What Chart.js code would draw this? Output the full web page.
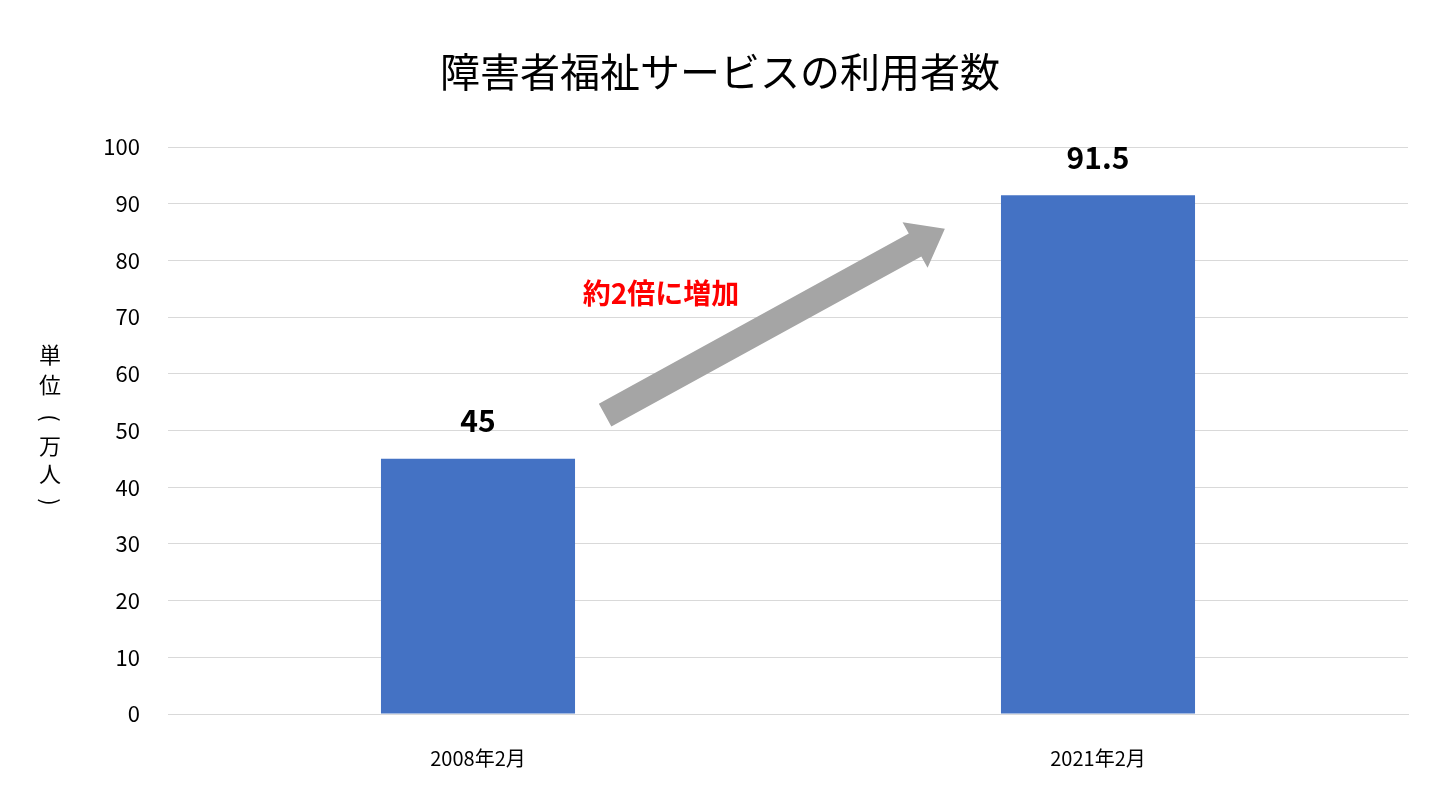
<!DOCTYPE html>
<html>
<head>
<meta charset="utf-8">
<script src="https://cdn.jsdelivr.net/npm/chart.js@4"></script>
<style>
  html, body { margin: 0; padding: 0; background: #fff; }
  #wrap { width: 1440px; height: 810px; }
</style>
</head>
<body>
<div id="wrap"><canvas id="chart" width="1440" height="810"></canvas></div>
<script>
const FONT = "'Noto Sans CJK JP', 'Noto Sans', sans-serif";
const categories = ["2008年2月", "2021年2月"];
const users = [45, 91.5];
const valueLabels = ["45", "91.5"];

// title, vertical axis title, value labels and the arrow annotation
const overlay = {
  id: "overlay",
  afterDraw(chart) {
    const { ctx, scales: { x, y } } = chart;
    ctx.save();
    ctx.fillStyle = "#000";
    ctx.textAlign = "center";
    ctx.textBaseline = "middle";
    ctx.font = `40px ${FONT}`;
    ctx.fillText("障害者福祉サービスの利用者数", 720, 72);

    ctx.font = `22px ${FONT}`;
    const chars = ["単", "位", "（", "万", "人", "）"];
    const offs = [355, 385, 418, 446, 474, 502];
    chars.forEach((c, i) => {
      if (c === "（" || c === "）") {
        ctx.save();
        ctx.translate(50, offs[i]);
        ctx.rotate(Math.PI / 2);
        ctx.fillText(c === "（" ? "(" : ")", 0, 0);
        ctx.restore();
      } else {
        ctx.fillText(c, 50, offs[i]);
      }
    });

    ctx.font = `bold 30px ${FONT}`;
    users.forEach((v, i) => {
      ctx.fillText(valueLabels[i], x.getPixelForValue(i), y.getPixelForValue(v) - 38);
    });

    // arrow
    const x0 = x.getPixelForValue(0.205), y0 = y.getPixelForValue(52.7);
    const x1 = x.getPixelForValue(0.753), y1 = y.getPixelForValue(85.6);
    const ang = Math.atan2(y1 - y0, x1 - x0);
    const len = Math.hypot(x1 - x0, y1 - y0);
    ctx.translate(x0, y0);
    ctx.rotate(ang);
    ctx.fillStyle = "#a5a5a5";
    ctx.beginPath();
    ctx.moveTo(0, -13);
    ctx.lineTo(len - 34, -13);
    ctx.lineTo(len - 34, -26);
    ctx.lineTo(len, 0);
    ctx.lineTo(len - 34, 26);
    ctx.lineTo(len - 34, 13);
    ctx.lineTo(0, 13);
    ctx.closePath();
    ctx.fill();
    ctx.restore();

    ctx.save();
    ctx.fillStyle = "#ff0000";
    ctx.font = `bold 28px ${FONT}`;
    ctx.textAlign = "center";
    ctx.textBaseline = "middle";
    ctx.fillText("約2倍に増加", 661, 293);
    ctx.restore();
  }
};

new Chart(document.getElementById("chart"), {
  type: "bar",
  data: {
    labels: categories,
    datasets: [{
      data: users,
      backgroundColor: "#4472c4",
      barPercentage: 0.626,
      categoryPercentage: 0.5
    }]
  },
  options: {
    responsive: false,
    animation: false,
    layout: { padding: { left: 70, right: 32, top: 147, bottom: 0 } },
    plugins: { legend: { display: false }, tooltip: { enabled: false } },
    scales: {
      x: {
        afterFit(s) { s.height = 96; },
        grid: { display: false },
        border: { color: "#d9d9d9" },
        ticks: { color: "#000", font: { family: FONT, size: 20 }, padding: 24 }
      },
      y: {
        min: 0, max: 100,
        afterFit(s) { s.width = 98; },
        grid: { color: "#d9d9d9", drawTicks: false },
        border: { display: false },
        ticks: { stepSize: 10, color: "#000", font: { family: FONT, size: 22 }, padding: 28 }
      }
    }
  },
  plugins: [overlay]
});
</script>
</body>
</html>
